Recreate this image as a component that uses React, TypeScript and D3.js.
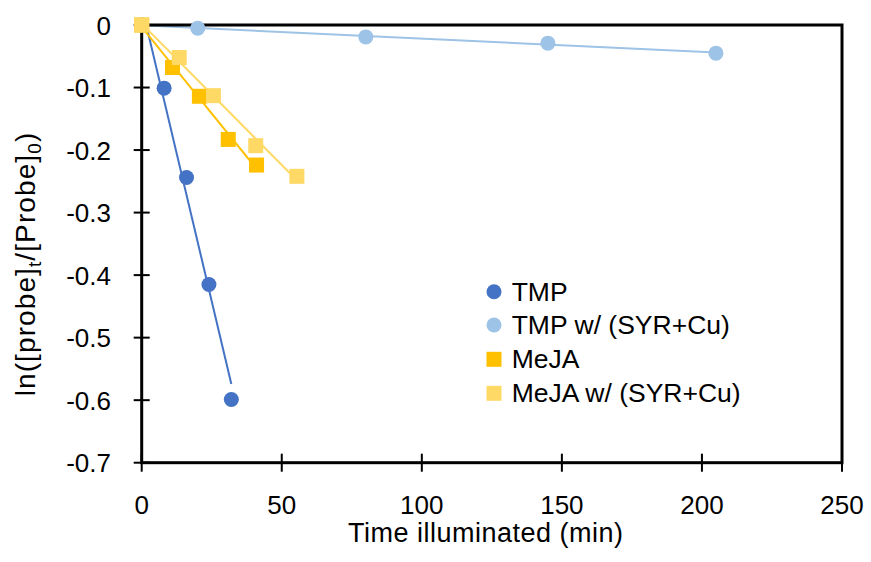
import React from "react";
import * as d3 from "d3";

const tmpX = [0, 8, 16, 24, 32];
const tmpY = [0, -0.101, -0.244, -0.415, -0.599];
const tmpSyrX = [0, 20, 80, 145, 205];
const tmpSyrY = [0, -0.005, -0.019, -0.029, -0.045];
const mejaX = [0, 11, 20.6, 30.9, 41];
const mejaY = [0, -0.068, -0.114, -0.183, -0.224];
const mejaSyrX = [0, 13.4, 25.6, 40.7, 55.4];
const mejaSyrY = [0, -0.052, -0.113, -0.193, -0.242];

const seriesNames = ["TMP", "TMP w/ (SYR+Cu)", "MeJA", "MeJA w/ (SYR+Cu)"];
const seriesColors = ["#4472C4", "#9DC3E6", "#FFC000", "#FFD966"];
const seriesShapes = ["circle", "circle", "square", "square"];
const xTicks = [0, 50, 100, 150, 200, 250];
const yTicks = [0, -0.1, -0.2, -0.3, -0.4, -0.5, -0.6, -0.7];
const xTitle = "Time illuminated (min)";

const W = 871, H = 562;
const L = 141.7, R = 842, T = 25, B = 462.7;
const FONT = "'Liberation Sans', Arial, sans-serif";

function fit(xs: number[], ys: number[]) {
  const mx = d3.mean(xs)!, my = d3.mean(ys)!;
  let sxy = 0, sxx = 0;
  xs.forEach((x, i) => { sxy += (x - mx) * (ys[i] - my); sxx += (x - mx) ** 2; });
  const m = sxy / sxx;
  return { m, b: my - m * mx };
}

export default function App() {
  const x = d3.scaleLinear().domain([0, 250]).range([L, R]);
  const y = d3.scaleLinear().domain([-0.7, 0]).range([B, T]);
  const data = [
    { xs: tmpX, ys: tmpY },
    { xs: tmpSyrX, ys: tmpSyrY },
    { xs: mejaX, ys: mejaY },
    { xs: mejaSyrX, ys: mejaSyrY },
  ];
  const line = d3.line<[number, number]>().x(d => x(d[0])).y(d => y(d[1]));
  const fmt = (v: number) => (v === 0 ? "0" : d3.format(".1f")(v).replace("\u2212", "-"));
  const legendY = [291.7, 325, 359.3, 393.3];

  return (
    <svg width={W} height={H} style={{ position: "absolute", left: 0, top: 0, background: "#fff" }} fontFamily={FONT}>
      <defs>
        <clipPath id="plot"><rect x={L} y={T} width={R - L} height={B - T} /></clipPath>
      </defs>
      <rect x={0} y={0} width={W} height={H} fill="#fff" />
      {/* trendlines */}
      <g clipPath="url(#plot)">
        {data.map((s, i) => {
          const { m, b } = fit(s.xs, s.ys);
          const x0 = d3.min(s.xs)!, x1 = d3.max(s.xs)!;
          return (
            <path key={i} d={line([[x0, m * x0 + b], [x1, m * x1 + b]])!} stroke={seriesColors[i]} strokeWidth={2} fill="none" />
          );
        })}
      </g>
      {/* frame */}
      <rect x={L} y={T} width={R - L} height={B - T} fill="none" stroke="#000" strokeWidth={3} />
      {yTicks.map(t => (
        <g key={"y" + t}>
          <line x1={L - 8} x2={L + 8} y1={y(t)} y2={y(t)} stroke="#000" strokeWidth={2} />
          <text x={111} y={y(t) + 9.5} textAnchor="end" fontSize={26} fill="#000">{fmt(t)}</text>
        </g>
      ))}
      {xTicks.map(t => (
        <g key={"x" + t}>
          <line x1={x(t)} x2={x(t)} y1={B - 9} y2={B + 9} stroke="#000" strokeWidth={2} />
          <text x={x(t)} y={514} textAnchor="middle" fontSize={26} fill="#000">{t}</text>
        </g>
      ))}
      {/* points */}
      {data.map((s, i) => (
        <g key={"p" + i}>
          {s.xs.map((xv, j) =>
            seriesShapes[i] === "circle" ? (
              <circle key={j} cx={x(xv)} cy={y(s.ys[j])} r={7.5} fill={seriesColors[i]} />
            ) : (
              <rect key={j} x={x(xv) - 7.5} y={y(s.ys[j]) - 7.5} width={15} height={15} fill={seriesColors[i]} />
            )
          )}
        </g>
      ))}
      {/* axis titles */}
      <text x={485.5} y={542} textAnchor="middle" fontSize={27} fill="#000" textLength={275} lengthAdjust="spacing">{xTitle}</text>
      <text transform={`translate(35,264) rotate(-90)`} textAnchor="middle" fontSize={28} letterSpacing={1.1} fill="#000">
        ln([probe]<tspan fontSize={19} dy={6}>t</tspan><tspan dy={-6}>/[Probe]</tspan><tspan fontSize={19} dy={6}>0</tspan><tspan dy={-6}>)</tspan>
      </text>
      {/* legend */}
      {seriesNames.map((n, i) => (
        <g key={"l" + i}>
          {seriesShapes[i] === "circle" ? (
            <circle cx={494} cy={legendY[i]} r={7.5} fill={seriesColors[i]} />
          ) : (
            <rect x={486.5} y={legendY[i] - 7.5} width={15} height={15} fill={seriesColors[i]} />
          )}
          <text x={511.7} y={legendY[i] + 9} fontSize={26.5} fill="#000">{n}</text>
        </g>
      ))}
    </svg>
  );
}
